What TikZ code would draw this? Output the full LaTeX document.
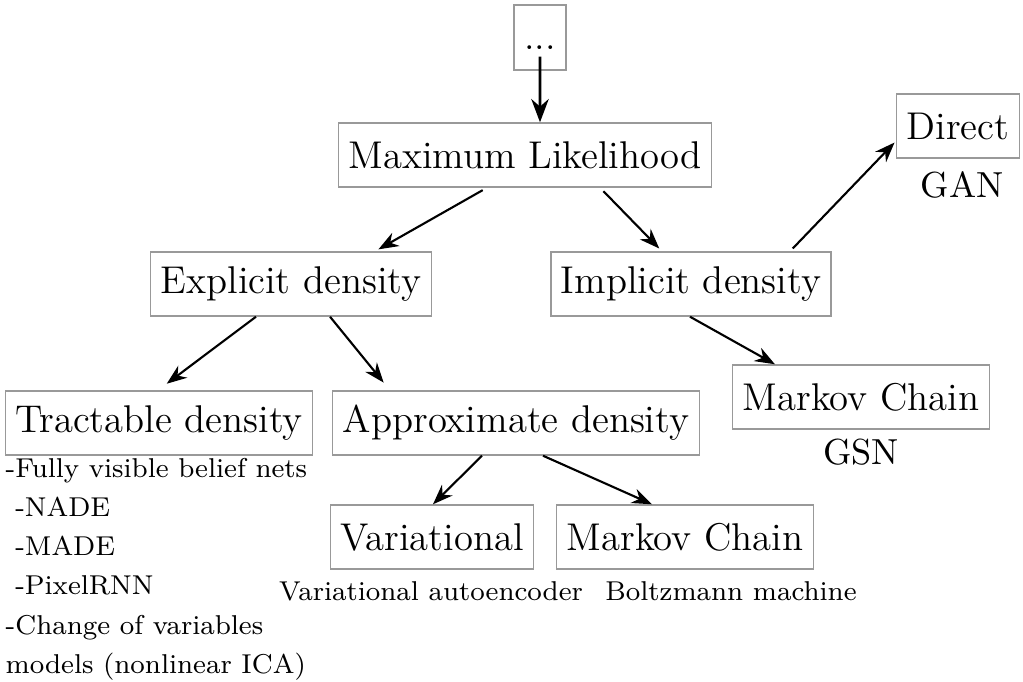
\documentclass[tikz,border=0pt]{standalone}
\usepackage{fontspec}
\usepackage{tikz}
\usetikzlibrary{arrows.meta,positioning}

\begin{document}
\begin{tikzpicture}[
  x=0.01cm, y=-0.01cm,
  font=\fontsize{11}{13}\selectfont,
  block/.style={draw=gray!80, thin, minimum height=6.4mm, inner xsep=1mm, align=center},
  tag/.style={font=\fontsize{10.3}{12}\selectfont},
  note/.style={font=\fontsize{7.75}{11.1}\selectfont, inner sep=0pt, align=left},
  line/.style={-{Stealth}, semithick}
]
\useasboundingbox (0,0) rectangle (1023,682);
% Nodes
\node[block, minimum width=5.2mm, minimum height=6.5mm, text height=7.1pt, text depth=0pt] (top) at (540,37.5) {...};
\node[block] (ml)     at (525,155) {Maximum Likelihood};
\node[block] (expl)   at (291,284) {Explicit density};
\node[block] (impl)   at (691,284) {Implicit density};
\node[block] (direct) at (958,126) {Direct};
\node[block] (tract)  at (159,423) {Tractable density};
\node[block] (approx) at (516,423) {Approximate density};
\node[block] (mcgsn)  at (861,397) {Markov Chain};
\node[block] (var)    at (432,537) {Variational};
\node[block] (mcbm)   at (685,537) {Markov Chain};

% Labels
\node[tag] (gan) at (962,185) {GAN};
\node[tag] (gsn) at (861,452) {GSN};
\node[note] (vae) at (431,591) {Variational autoencoder};
\node[note] (bm)  at (731,591) {Boltzmann machine};
\node[note, anchor=north west] (list) at (5,458) {-Fully visible belief nets\\
\ -NADE\\
\ -MADE\\
\ -PixelRNN\\
-Change of variables\\
models (nonlinear ICA)};

% Connections
\draw[line, thick] ([yshift=-0.19cm]top.center) -- ([xshift=0.15cm]ml.north);
\draw[line, shorten <=1.4pt, shorten >=1.1pt] ([xshift=-0.38cm]ml.south) -- ([xshift=0.84cm]expl.north);
\draw[line, shorten <=1.4pt, shorten >=1.1pt] ([xshift=0.75cm]ml.south) -- ([xshift=-0.29cm]impl.north);
\draw[line, shorten <=1.1pt, shorten >=0.6pt] ([xshift=0.99cm]impl.north) -- ([yshift=-0.15cm]direct.west);
\draw[line, shorten >=3.1pt] ([xshift=-0.35cm]expl.south) -- ([xshift=-0.01cm]tract.north);
\draw[line, shorten >=2.8pt] ([xshift=0.39cm]expl.south) -- ([xshift=-1.26cm]approx.north);
\draw[line] ([xshift=-0.01cm]impl.south) -- ([xshift=-0.86cm]mcgsn.north);
\draw[line] ([xshift=-0.34cm]approx.south) -- ([xshift=0.01cm]var.north);
\draw[line] ([xshift=0.27cm]approx.south) -- ([xshift=-0.33cm]mcbm.north);

\end{tikzpicture}
\end{document}
